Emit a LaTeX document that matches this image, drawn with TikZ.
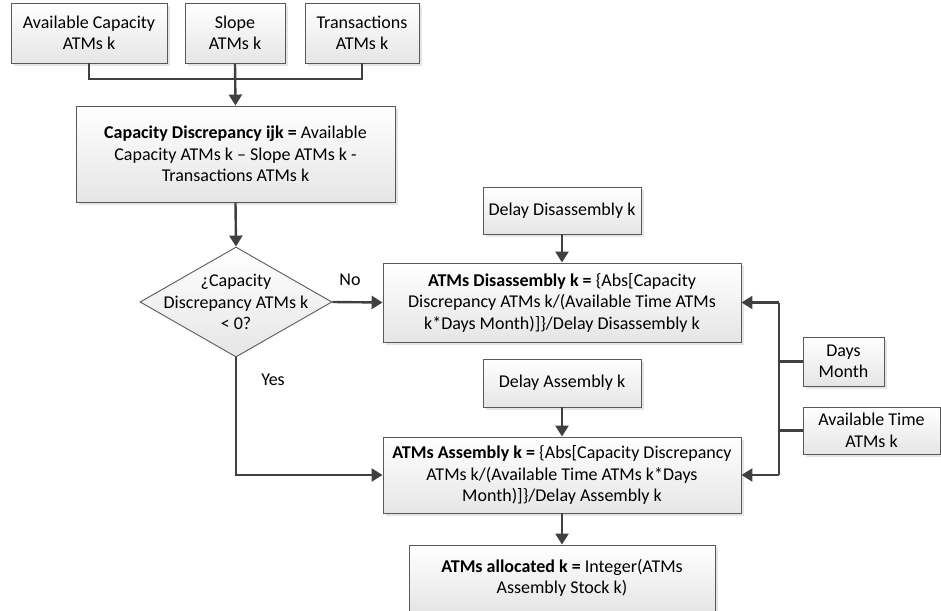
\documentclass[tikz,border=0pt]{standalone}
\usepackage{fontspec}
\setmainfont{Carlito}
\usetikzlibrary{arrows.meta,shapes.geometric,shadows}

\definecolor{linegray}{HTML}{404040}
\definecolor{edgegray}{HTML}{585858}

\begin{document}
\begin{tikzpicture}[x=1pt,y=-1pt,
  font=\fontsize{18}{21.5}\selectfont,
  box/.style={draw=edgegray, line width=0.9pt, top color=white, bottom color=black!10,
    drop shadow={shadow xshift=3pt, shadow yshift=-3pt, fill=black!10, opacity=1},
    align=center, inner sep=0pt},
  sz/.style 2 args={minimum width=#1pt, minimum height=#2pt},
  flow/.style={draw=linegray, line width=2.4pt},
  arr/.style={flow, -{Triangle[length=11pt,width=13pt]}},
  lbl/.style={inner sep=0pt},
]
\useasboundingbox (0,0) rectangle (941,610);

% inputs to the capacity discrepancy
\node[box, sz={156}{60}] (avail) at (89,33)  {Available Capacity\\ATMs k};
\node[box, sz={100}{60}] (slope) at (235,33) {Slope\\ATMs k};
\node[box, sz={114}{60}] (trans) at (362,33) {Transactions\\ATMs k};

\node[box, sz={319}{96}] (capdisc) at (235.5,154)
  {\textbf{Capacity Discrepancy ijk =} Available\\Capacity ATMs k -- Slope ATMs k -\\Transactions ATMs k};

% decision
\node[diamond, draw=edgegray, line width=0.9pt, top color=white, bottom color=black!10,
      sz={192}{110}, inner sep=0pt,
      label={[name=dectext, align=center, lbl]center:¿Capacity\\Discrepancy ATMs k\\< 0?}]
  (dec) at (236,302) {};

% disassembly branch
\node[box, sz={158}{47}] (ddis) at (562,210.5) {Delay Disassembly k};
\node[box, sz={358}{79}] (disasm) at (562,302.5)
  {\textbf{ATMs Disassembly k =} \{Abs[Capacity\\Discrepancy ATMs k/(Available Time ATMs\\k*Days Month)]\}/Delay Disassembly k};

% assembly branch
\node[box, sz={158}{48}] (dasm) at (562,383) {Delay Assembly k};
\node[box, sz={358}{76}] (asm) at (562,475)
  {\textbf{ATMs Assembly k =} \{Abs[Capacity Discrepancy\\ATMs k/(Available Time ATMs k*Days\\Month)]\}/Delay Assembly k};

\node[box, sz={306}{66}] (alloc) at (562,578)
  {\textbf{ATMs allocated k =} Integer(ATMs\\Assembly Stock k)};

% shared parameters
\node[box, sz={81}{49}]  (days)   at (843.5,361.5) {Days\\Month};
\node[box, sz={137}{47}] (avtime) at (871.5,430.5) {Available Time\\ATMs k};

% connectors
\coordinate (join) at (235,79);
\draw[flow] (avail.south) |- (join);
\draw[flow] (trans.south) |- (join);
\draw[arr] (slope.south) -- (capdisc.north);

\draw[arr] (capdisc.south) -- (dec.north);
\draw[arr] (dec.east) -- (disasm.west);
\draw[arr] (dec.south) |- (asm.west);
\node[lbl] (no)  at (350,280) {No};
\node[lbl] (yes) at (273,380) {Yes};

\draw[arr] (ddis.south) -- (disasm.north);
\draw[arr] (dasm.south) -- (asm.north);
\draw[arr] (asm.south) -- (alloc.north);

\coordinate (busT) at (779,302.5);
\coordinate (busB) at (779,475);
\draw[flow] (busT) -- (busB);
\draw[arr] (busT) -- (disasm.east);
\draw[arr] (busB) -- (asm.east);
\draw[flow] (days.west) -- (days.west -| busT);
\draw[flow] (avtime.west) -- (avtime.west -| busT);
\end{tikzpicture}
\end{document}
